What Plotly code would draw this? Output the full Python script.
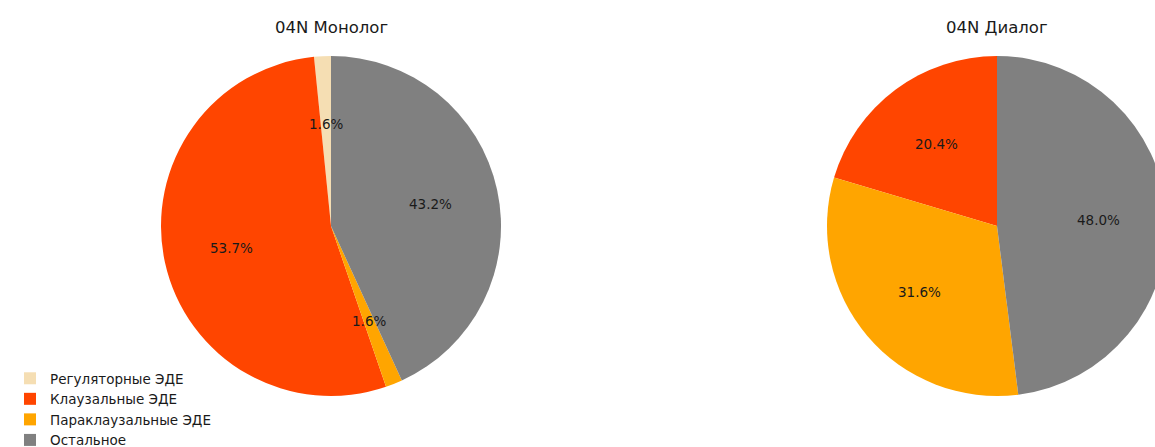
import math
import plotly.graph_objects as go

# ---- data ----
mono_labels = ["Регуляторные ЭДЕ", "Клаузальные ЭДЕ", "Параклаузальные ЭДЕ", "Остальное"]
mono_values = [1.6, 53.7, 1.6, 43.2]
mono_colors = ["#F5DEB3", "#FF4500", "#FFA500", "#808080"]

dia_labels = ["Клаузальные ЭДЕ", "Параклаузальные ЭДЕ", "Остальное"]
dia_values = [20.4, 31.6, 48.0]
dia_colors = ["#FF4500", "#FFA500", "#808080"]

titles = ["04N Монолог", "04N Диалог"]

# ---- layout geometry (px) ----
W, H = 1170, 447
R = 170
centers = [(331, 226), (997, 226)]
FONT = "DejaVu Sans"

fig = go.Figure()
annotations = []

for i, (labels, values, colors, title) in enumerate(
    [(mono_labels, mono_values, mono_colors, titles[0]),
     (dia_labels, dia_values, dia_colors, titles[1])]):
    cx, cy = centers[i]
    total = sum(values)
    dom_x = [(cx - R) / W, (cx + R) / W]
    dom_y = [(H - (cy + R)) / H, (H - (cy - R)) / H]
    fig.add_trace(go.Pie(
        labels=labels, values=values, sort=False, direction="counterclockwise",
        rotation=-360 * values[0] / total,
        marker=dict(colors=colors, line=dict(width=0)),
        textinfo="none", hoverinfo="label+percent",
        domain=dict(x=dom_x, y=dom_y),
        legend="legend" if i == 0 else "legend2",
        showlegend=True,
    ))
    cum = 0.0
    for v in values:
        theta = math.radians(90 + 360 * (cum + v / 2) / total)
        cum += v
        ax = cx / W + 0.6 * R * math.cos(theta) / W
        ay = (H - cy) / H + 0.6 * R * math.sin(theta) / H
        annotations.append(dict(
            x=ax, y=ay, xref="paper", yref="paper", text=f"{v:.1f}%",
            showarrow=False, xanchor="center", yanchor="middle",
            font=dict(family=FONT, size=13.5, color="#1a1a1a")))
    annotations.append(dict(
        x=cx / W, y=(H - 28) / H, xref="paper", yref="paper", text=title,
        showarrow=False, xanchor="center", yanchor="middle",
        font=dict(family=FONT, size=16.5, color="#1a1a1a")))

fig.update_layout(
    width=W, height=H,
    margin=dict(l=0, r=0, t=0, b=0, autoexpand=False),
    paper_bgcolor="white", plot_bgcolor="white",
    font=dict(family=FONT, size=13.5, color="#1a1a1a"),
    annotations=annotations,
    legend=dict(x=10 / W, y=(H - 363) / H, xanchor="left", yanchor="top",
                bgcolor="rgba(255,255,255,0)", font=dict(family=FONT, size=13.5),
                tracegroupgap=0, itemwidth=30),
    legend2=dict(x=676 / W, y=(H - 363) / H, xanchor="left", yanchor="top",
                 bgcolor="rgba(255,255,255,0)", font=dict(family=FONT, size=13.5),
                 tracegroupgap=0, itemwidth=30),
)

fig.write_html("out.html", post_script="document.body.style.overflow='hidden';document.body.style.margin='0';")
